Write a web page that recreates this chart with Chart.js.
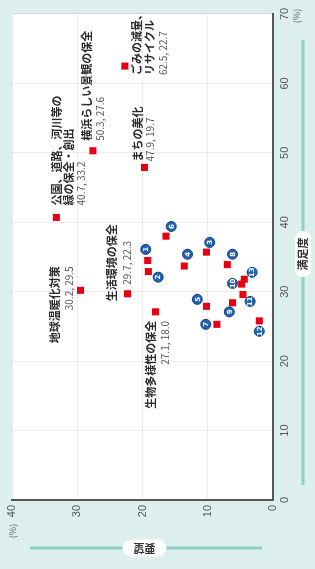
<!DOCTYPE html>
<html>
<head>
<meta charset="utf-8">
<script src="https://cdn.jsdelivr.net/npm/chart.js@4/dist/chart.umd.min.js"></script>
<style>
  html, body { margin: 0; padding: 0; background: #dcefec; overflow: hidden; }
  #wrap {
    position: absolute; left: 0; top: 0; width: 569px; height: 315px;
    transform-origin: 0 0; transform: translateY(569px) rotate(-90deg);
  }
</style>
</head>
<body>
<div id="wrap"><canvas id="myChart" width="569" height="315"></canvas></div>
<script>
// labelled items: satisfaction (%), demand (%)
const itemNames = ['公園、道路、河川等の\n緑の保全・創出', '地球温暖化対策', '生活環境の保全', '生物多様性の保全',
                   '横浜らしい景観の保全', 'まちの美化', 'ごみの減量、\nリサイクル'];
const itemSatisfaction = [40.7, 30.2, 29.7, 27.1, 50.3, 47.9, 62.5];
const itemDemand = [33.2, 29.5, 22.3, 18.0, 27.6, 19.7, 22.7];

// other (unlabelled) items
const otherSatisfaction = [38.0, 34.5, 32.9, 33.7, 35.7, 33.9, 31.8, 31.1, 29.6, 28.4, 27.9, 25.3, 25.8];
const otherDemand = [16.4, 19.2, 19.1, 13.6, 10.2, 7.0, 4.4, 4.8, 4.6, 6.2, 10.2, 8.6, 2.1];

// numbered circles
const circleIds = ['6', '1', '2', '4', '3', '8', '13', '10', '11', '5', '9', '7', '12'];
const circleSatisfaction = [39.4, 36.1, 32.1, 35.4, 37.1, 35.4, 32.8, 31.2, 28.6, 28.9, 27.1, 25.3, 24.3];
const circleDemand = [15.6, 19.5, 17.6, 13.1, 9.7, 6.2, 3.2, 6.2, 3.5, 11.6, 6.7, 10.3, 2.1];

const xTicks = [0, 10, 20, 30, 40, 50, 60, 70];
const yTicks = [0, 10, 20, 30, 40];

// label placement relative to each point (px)
const labelLayout = [
  { dx: 12, dy: 0, align: 'left', lh: 12.5 },
  { dx: 24, dy: -26, align: 'right', lh: 15 },
  { dx: 31, dy: -16, align: 'center', lh: 16 },
  { dx: -9, dy: -5, align: 'right', lh: 15 },
  { dx: 10, dy: -6, align: 'left', lh: 13 },
  { dx: 6, dy: -7, align: 'left', lh: 13 },
  { dx: -9, dy: 12, align: 'left', lh: 13 }
];

const JP = '"Noto Sans CJK JP", sans-serif';

function pill(ctx, cx, cy, w, h) {
  ctx.fillStyle = '#fff';
  ctx.beginPath();
  ctx.roundRect(cx - w / 2, cy - h / 2, w, h, Math.min(w, h) / 2);
  ctx.fill();
}

const decor = {
  id: 'decor',
  beforeDraw(chart) {
    const { ctx, chartArea: a, width, height } = chart;
    ctx.save();
    ctx.fillStyle = '#dcefec';
    ctx.fillRect(0, 0, width, height);
    ctx.fillStyle = '#fff';
    ctx.fillRect(a.left, a.top, a.right - a.left, a.bottom - a.top);

    // axis title bars
    ctx.strokeStyle = '#8ed0c4';
    ctx.lineWidth = 3;
    ctx.beginPath();
    ctx.moveTo(a.left + 15, a.bottom + 30);
    ctx.lineTo(a.right - 26, a.bottom + 30);
    ctx.moveTo(a.left - 48, a.top + 18);
    ctx.lineTo(a.left - 48, a.bottom - 11);
    ctx.stroke();

    const cx = (a.left + a.right) / 2, cy = (a.top + a.bottom) / 2;
    pill(ctx, cx + 3, a.bottom + 30, 46, 16);
    pill(ctx, a.left - 48, cy + 2, 17, 44);
    ctx.fillStyle = '#333';
    ctx.font = 'bold 11px ' + JP;
    ctx.textAlign = 'center';
    ctx.textBaseline = 'middle';
    ctx.fillText('満足度', cx + 3, a.bottom + 30);
    ctx.save();
    ctx.translate(a.left - 48, cy + 2);
    ctx.rotate(-Math.PI / 2);
    ctx.fillText('要望', 0, 0);
    ctx.restore();

    // unit marks
    ctx.fillStyle = '#666';
    ctx.font = '9px ' + JP;
    ctx.fillText('(%)', a.right - 2, a.bottom + 24);
    ctx.fillText('(%)', a.left - 31, a.top + 1);
    ctx.restore();
  }
};

const labels = {
  id: 'labels',
  afterDatasetsDraw(chart) {
    const { ctx, scales: { x, y } } = chart;
    ctx.save();
    ctx.textBaseline = 'middle';
    itemNames.forEach((name, i) => {
      const px = x.getPixelForValue(itemSatisfaction[i]);
      const py = y.getPixelForValue(itemDemand[i]);
      const L = labelLayout[i];
      const lines = name.split('\n');
      ctx.textAlign = L.align;
      ctx.font = 'bold 11px ' + JP;
      ctx.fillStyle = '#2b2b2b';
      lines.forEach((t, k) => ctx.fillText(t, px + L.dx, py + L.dy + k * L.lh));
      ctx.font = '10px ' + JP;
      ctx.fillStyle = '#555';
      ctx.fillText(itemSatisfaction[i].toFixed(1) + ', ' + itemDemand[i].toFixed(1),
                   px + L.dx, py + L.dy + lines.length * L.lh);
    });

    // numbers inside circles
    const meta = chart.getDatasetMeta(2);
    ctx.textAlign = 'center';
    ctx.fillStyle = '#fff';
    ctx.font = 'bold 7px "DejaVu Sans", sans-serif';
    meta.data.forEach((pt, i) => ctx.fillText(circleIds[i], pt.x, pt.y + 0.5));
    ctx.restore();
  }
};

var ctx = document.getElementById('myChart').getContext('2d');
var chart = new Chart(ctx, {
  type: 'scatter',
  data: {
    datasets: [{
      label: '主な項目',
      data: itemSatisfaction.map((s, i) => ({ x: s, y: itemDemand[i] })),
      pointStyle: 'rect',
      pointRadius: 5,
      pointBackgroundColor: '#e60012',
      pointBorderWidth: 0,
      order: 0
    }, {
      label: 'その他',
      data: otherSatisfaction.map((s, i) => ({ x: s, y: otherDemand[i] })),
      pointStyle: 'rect',
      pointRadius: 5,
      pointBackgroundColor: '#e60012',
      pointBorderWidth: 0,
      order: 1
    }, {
      label: '番号',
      data: circleSatisfaction.map((s, i) => ({ x: s, y: circleDemand[i] })),
      pointStyle: 'circle',
      pointRadius: 5,
      pointBackgroundColor: '#2463b3',
      pointBorderColor: '#15407e',
      pointBorderWidth: 1,
      order: 2
    }]
  },
  options: {
    responsive: false,
    animation: false,
    layout: { padding: { top: 12, right: 14, left: 0, bottom: 0 } },
    plugins: { legend: { display: false }, tooltip: { enabled: false } },
    scales: {
      x: {
        min: 0, max: 70,
        afterBuildTicks: s => { s.ticks = xTicks.map(v => ({ value: v })); },
        afterFit: s => { s.height = 42; },
        ticks: { padding: 5, color: '#555', font: { size: 11, family: 'Liberation Sans' } },
        grid: { color: 'rgba(0,0,0,0.07)', drawTicks: false },
        border: { color: '#555', width: 2 }
      },
      y: {
        min: 0, max: 40,
        afterBuildTicks: s => { s.ticks = yTicks.map(v => ({ value: v })); },
        afterFit: s => { s.width = 69; },
        ticks: { padding: 5, color: '#555', font: { size: 11, family: 'Liberation Sans' } },
        grid: { color: 'rgba(0,0,0,0.07)', drawTicks: false },
        border: { color: '#555', width: 2 }
      }
    }
  },
  plugins: [decor, labels]
});
</script>
</body>
</html>
